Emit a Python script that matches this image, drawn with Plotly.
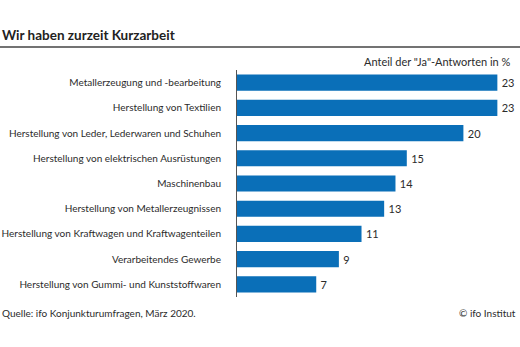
import plotly.graph_objects as go

categories = [
    "Metallerzeugung und -bearbeitung",
    "Herstellung von Textilien",
    "Herstellung von Leder, Lederwaren und Schuhen",
    "Herstellung von elektrischen Ausrüstungen",
    "Maschinenbau",
    "Herstellung von Metallerzeugnissen",
    "Herstellung von Kraftwagen und Kraftwagenteilen",
    "Verarbeitendes Gewerbe",
    "Herstellung von Gummi- und Kunststoffwaren",
]
values = [23, 23, 20, 15, 14, 13, 11, 9, 7]

W, H = 520, 347
L, R, T, B = 237, 0, 70, 50
pw, ph = W - L - R, H - T - B

def px(x):
    return (x - L) / pw

def py(y):
    return (H - B - y) / ph

FONT = "Lato"
TXT = "#2b2b2b"

fig = go.Figure(go.Bar(
    x=values, y=categories, orientation="h",
    marker=dict(color="#0a6fb8", line=dict(width=0)),
    width=0.64,
    text=["\u2009" + str(v) for v in values], textposition="outside",
    textfont=dict(family=FONT, size=11, color=TXT),
    cliponaxis=False,
))

fig.update_layout(
    width=W, height=H,
    margin=dict(l=L, r=R, t=T, b=B),
    paper_bgcolor="white", plot_bgcolor="white",
    showlegend=False,
    xaxis=dict(range=[0, 25], visible=False, fixedrange=True),
    yaxis=dict(
        categoryorder="array", categoryarray=categories[::-1],
        autorange=False, range=[-0.5, 8.5],
        showline=True, linecolor="#555", linewidth=1,
        ticks="", ticklabelstandoff=13, showgrid=False,
        tickfont=dict(family=FONT, size=10, color=TXT),
    ),
    shapes=[dict(type="line", xref="paper", yref="paper",
                 x0=px(0), x1=px(520), y0=py(47), y1=py(47),
                 line=dict(color="#444", width=1.5))],
    annotations=[
        dict(text="<b>Wir haben zurzeit Kurzarbeit</b>", xref="paper", yref="paper",
             x=px(0), y=py(35), xanchor="left", yanchor="middle", showarrow=False,
             font=dict(family=FONT, size=13.5, color="#222")),
        dict(text='Anteil der "Ja"-Antworten in %', xref="paper", yref="paper",
             x=px(513), y=py(62), xanchor="right", yanchor="middle", showarrow=False,
             font=dict(family=FONT, size=11, color=TXT)),
        dict(text="Quelle: ifo Konjunkturumfragen, März 2020.", xref="paper", yref="paper",
             x=px(0), y=py(313), xanchor="left", yanchor="middle", showarrow=False,
             font=dict(family=FONT, size=10, color=TXT)),
        dict(text="© ifo Institut", xref="paper", yref="paper",
             x=px(518), y=py(313), xanchor="right", yanchor="middle", showarrow=False,
             font=dict(family=FONT, size=10, color=TXT)),
    ],
)

fig.write_html("out.html")
